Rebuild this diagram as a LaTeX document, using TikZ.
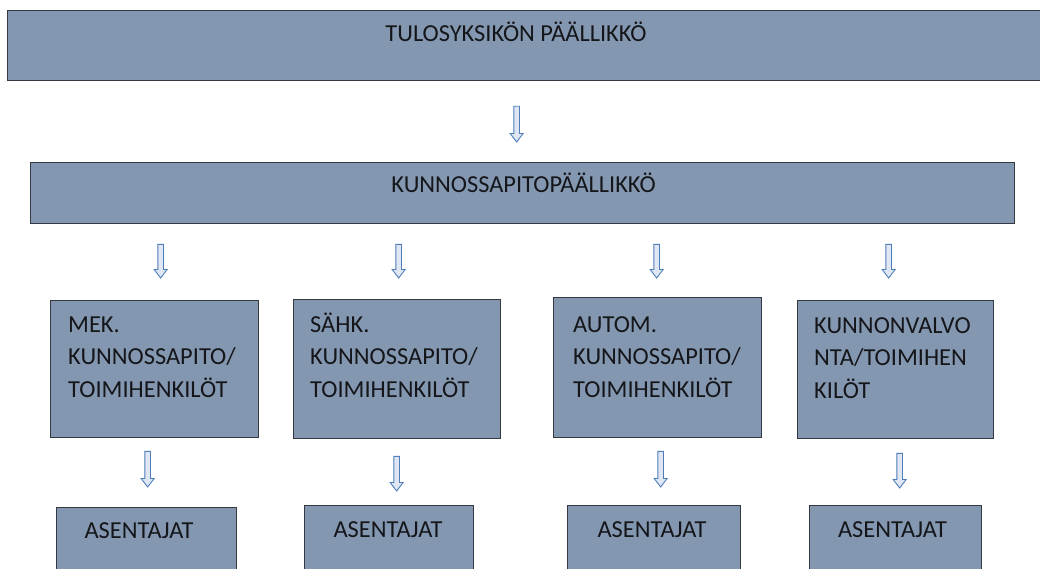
\documentclass[tikz,border=0pt]{standalone}
\usepackage{fontspec}
\setmainfont{Carlito}
\usetikzlibrary{arrows.meta,positioning,calc}
\definecolor{BoxFill}{RGB}{132,151,176}
\definecolor{BoxLine}{RGB}{52,57,66}
\definecolor{ArrowBlue}{RGB}{79,125,185}
\definecolor{ArrowFill}{RGB}{222,231,243}
\definecolor{TextDark}{RGB}{20,22,26}
\tikzset{
  box/.style={draw=BoxLine,fill=BoxFill,line width=1.3pt,inner sep=0pt,
    anchor=north west},
  txt/.style={font=\fontsize{24.4}{32.5}\selectfont,text=TextDark,
    align=left,inner sep=0pt},
  flowshape/.style={draw=ArrowBlue,fill=ArrowFill,line width=0.9pt,
    line join=miter}
}
% block arrow: from, to, gap at start, gap at end
\newcommand\flowarrow[4]{%
  \coordinate (fa) at ($(#1)!#3!(#2)$);
  \coordinate (fb) at ($(#2)!#4!(#1)$);
  \draw[flowshape] ($(fa)+(-2.8,0)$) -- ($(fb)+(-2.8,-8.5)$)
    -- ($(fb)+(-6.5,-8.5)$) -- (fb) -- ($(fb)+(6.5,-8.5)$)
    -- ($(fb)+(2.8,-8.5)$) -- ($(fa)+(2.8,0)$) -- cycle;}

\begin{document}
\begin{tikzpicture}[x=1pt,y=-1pt]
\useasboundingbox (0,0) rectangle (1040,569);
\clip (0,0) rectangle (1040,569);

% johto
\node[box,minimum width=1045pt,minimum height=70pt,
  label={[txt,anchor=base,xshift=509pt,yshift=-32pt]north west:TULOSYKSIKÖN PÄÄLLIKKÖ}]
  (top) at (7,10) {};
\node[box,minimum width=984pt,minimum height=61pt,
  label={[txt,anchor=base,xshift=493.5pt,yshift=-31pt]north west:KUNNOSSAPITOPÄÄLLIKKÖ}]
  (kp) at (30,162) {};

% toimihenkilot
\node[box,minimum width=208pt,minimum height=137pt,
  label={[txt,anchor=base west,xshift=18pt,yshift=-97pt]north west:{MEK.\\KUNNOSSAPITO/\\TOIMIHENKILÖT}}]
  (mek) at (50,300) {};
\node[box,minimum width=207pt,minimum height=139pt,
  label={[txt,anchor=base west,xshift=17pt,yshift=-98pt]north west:{SÄHK.\\KUNNOSSAPITO/\\TOIMIHENKILÖT}}]
  (sahk) at (293,299) {};
\node[box,minimum width=208pt,minimum height=140pt,
  label={[txt,anchor=base west,xshift=20pt,yshift=-100pt]north west:{AUTOM.\\KUNNOSSAPITO/\\TOIMIHENKILÖT}}]
  (autom) at (553,297) {};
\node[box,minimum width=196pt,minimum height=138pt,
  label={[txt,anchor=base west,xshift=17pt,yshift=-98pt]north west:{KUNNONVALVO\\NTA/TOIMIHEN\\KILÖT}}]
  (kv) at (797,300) {};

% asentajat
\node[box,minimum width=180pt,minimum height=100pt,
  label={[txt,anchor=base,xshift=83pt,yshift=-31pt]north west:ASENTAJAT}]
  (as1) at (56,507) {};
\node[box,minimum width=169pt,minimum height=100pt,
  label={[txt,anchor=base,xshift=84pt,yshift=-32pt]north west:ASENTAJAT}]
  (as2) at (304,505) {};
\node[box,minimum width=173pt,minimum height=100pt,
  label={[txt,anchor=base,xshift=85pt,yshift=-32pt]north west:ASENTAJAT}]
  (as3) at (567,505) {};
\node[box,minimum width=172pt,minimum height=100pt,
  label={[txt,anchor=base,xshift=83.5pt,yshift=-32pt]north west:ASENTAJAT}]
  (as4) at (809,505) {};

% nuolet
\flowarrow{[xshift=-13.5pt]top.south}{[xshift=-13.5pt]top.south |- kp.north}{25pt}{20pt}

\flowarrow{[xshift=6pt]mek.north |- kp.south}{[xshift=6pt]mek.north}{20pt}{22pt}
\flowarrow{[xshift=1.5pt]sahk.north |- kp.south}{[xshift=1.5pt]sahk.north}{20pt}{21pt}
\flowarrow{[xshift=-1pt]autom.north |- kp.south}{[xshift=-1pt]autom.north}{20pt}{19pt}
\flowarrow{[xshift=-7pt]kv.north |- kp.south}{[xshift=-7pt]kv.north}{20pt}{22pt}

\flowarrow{[xshift=-7pt]mek.south}{[xshift=-7pt]mek.south |- as1.north}{13pt}{20pt}
\flowarrow{[xshift=-0.5pt]sahk.south}{[xshift=-0.5pt]sahk.south |- as2.north}{17pt}{14pt}
\flowarrow{[xshift=3pt]autom.south}{[xshift=3pt]autom.south |- as3.north}{13pt}{18pt}
\flowarrow{[xshift=4pt]kv.south}{[xshift=4pt]kv.south |- as4.north}{14pt}{17pt}
\end{tikzpicture}
\end{document}
